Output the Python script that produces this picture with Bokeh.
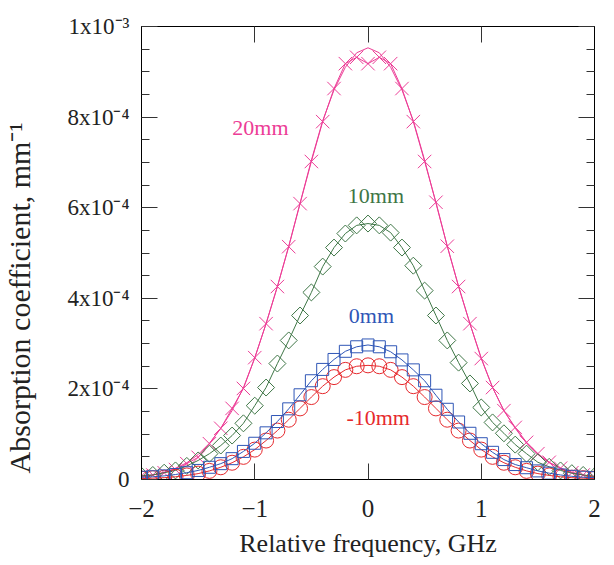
import math
from bokeh.plotting import figure
from bokeh.models import (ColumnDataSource, FixedTicker, LinearAxis, Range1d, Label,
                          CustomLabelingPolicy)
from bokeh.embed import file_html
from bokeh.resources import INLINE

# Relative frequency, GHz
freq = [-2.0, -1.9, -1.8, -1.7, -1.6, -1.5, -1.4, -1.3, -1.2, -1.1,
        -1.0, -0.9, -0.8, -0.7, -0.6, -0.5, -0.4, -0.3, -0.2, -0.1,
        0.0,
        0.1, 0.2, 0.3, 0.4, 0.5, 0.6, 0.7, 0.8, 0.9, 1.0,
        1.1, 1.2, 1.3, 1.4, 1.5, 1.6, 1.7, 1.8, 1.9, 2.0]

# Absorption coefficient in units of 1e-4 mm^-1
a20 = [0.08, 0.10, 0.15, 0.22, 0.35, 0.49, 0.79, 1.13, 1.57, 2.01,
       2.69, 3.44, 4.26, 5.14, 6.09, 7.02, 7.90, 8.63, 9.18, 9.32,
       9.18,
       9.32, 9.18, 8.63, 7.90, 7.02, 6.12, 5.15, 4.26, 3.44, 2.67,
       2.03, 1.52, 1.15, 0.82, 0.57, 0.38, 0.25, 0.15, 0.10, 0.05]
fit20 = [0.06, 0.10, 0.16, 0.25, 0.37, 0.55, 0.80, 1.13, 1.52, 2.03,
         2.68, 3.44, 4.26, 5.15, 6.10, 7.05, 7.92, 8.60, 9.10, 9.42,
         9.53,
         9.42, 9.10, 8.60, 7.92, 7.05, 6.10, 5.15, 4.26, 3.44, 2.68,
         2.03, 1.52, 1.13, 0.80, 0.55, 0.37, 0.25, 0.16, 0.10, 0.06]
a10 = [0.08, 0.10, 0.15, 0.20, 0.30, 0.42, 0.57, 0.75, 0.97, 1.24,
       1.63, 2.03, 2.56, 3.07, 3.62, 4.13, 4.70, 5.12, 5.43, 5.61,
       5.65,
       5.61, 5.45, 5.12, 4.72, 4.17, 3.62, 3.07, 2.58, 2.12, 1.59,
       1.26, 1.02, 0.77, 0.57, 0.38, 0.28, 0.20, 0.14, 0.10, 0.07]
a0 = [0.05, 0.06, 0.08, 0.11, 0.15, 0.20, 0.27, 0.35, 0.46, 0.62,
      0.80, 1.03, 1.28, 1.56, 1.87, 2.18, 2.43, 2.65, 2.83, 2.93,
      2.97,
      2.93, 2.82, 2.64, 2.42, 2.18, 1.86, 1.55, 1.27, 1.02, 0.79,
      0.60, 0.44, 0.33, 0.26, 0.19, 0.14, 0.10, 0.07, 0.05, 0.04]
am10 = [0.02, 0.03, 0.04, 0.06, 0.09, 0.13, 0.19, 0.27, 0.37, 0.50,
        0.66, 0.86, 1.08, 1.32, 1.57, 1.82, 2.06, 2.26, 2.42, 2.50,
        2.52,
        2.50, 2.42, 2.26, 2.06, 1.82, 1.57, 1.32, 1.08, 0.86, 0.66,
        0.50, 0.37, 0.27, 0.19, 0.13, 0.09, 0.06, 0.04, 0.03, 0.02]

series_names = ["20mm", "10mm", "0mm", "-10mm"]
name_x = [-0.95, 0.07, 0.03, 0.09]
name_y = [7.77, 6.28, 3.62, 1.37]

x_ticks = [-2, -1, 0, 1, 2]
y_ticks = [0, 2, 4, 6, 8, 10]
y_tick_labels = ["0", "2x10\u207b\u2074", "4x10\u207b\u2074", "6x10\u207b\u2074",
                 "8x10\u207b\u2074", "1x10\u207b\u00b3"]
y_title = "Absorption coefficient, mm\u207b\u00b9"
x_title = "Relative frequency, GHz"

PINK = "#EC3D96"
GREEN = "#3E7646"
BLUE = "#2F56B6"
RED = "#E6292D"
TXT = "#222222"
FONT = "Liberation Serif"

W, H = 604, 563
p = figure(width=W, height=H, output_backend="svg", toolbar_location=None,
           x_range=Range1d(-2, 2), y_range=Range1d(0, 10),
           min_border_left=140, min_border_right=W - 594,
           min_border_top=26, min_border_bottom=H - 479)
p.grid.visible = False
p.outline_line_color = "black"
p.outline_line_width = 1
p.background_fill_color = "white"

bottom = p.below[0]
left = p.left[0]

src = ColumnDataSource(dict(freq=freq, a20=a20, fit20=fit20, a10=a10, a0=a0, am10=am10))

p.line("freq", "fit20", source=src, line_color=PINK, line_width=1)
p.line("freq", "a20", source=src, line_color=PINK, line_width=1)
p.scatter("freq", "a20", source=src, marker="x", size=19, line_color=PINK, line_width=1)

p.line("freq", "a10", source=src, line_color=GREEN, line_width=1)
p.scatter("freq", "a10", source=src, marker="square", angle=math.pi / 4, size=12,
          line_color=GREEN, fill_color=None, line_width=1)

p.line("freq", "am10", source=src, line_color=RED, line_width=1)
p.scatter("freq", "am10", source=src, marker="circle", size=15,
          line_color=RED, fill_color=None, line_width=1)

p.line("freq", "a0", source=src, line_color=BLUE, line_width=1)
p.scatter("freq", "a0", source=src, marker="square", size=12,
          line_color=BLUE, fill_color=None, line_width=1)

minor_y = [t + k * 0.5 for t in y_ticks[:-1] for k in range(1, 4)]

bottom.ticker = FixedTicker(ticks=x_ticks, minor_ticks=[])
left.ticker = FixedTicker(ticks=y_ticks, minor_ticks=minor_y)
top = LinearAxis(ticker=FixedTicker(ticks=x_ticks, minor_ticks=[]))
right = LinearAxis(ticker=FixedTicker(ticks=y_ticks, minor_ticks=minor_y))
p.add_layout(top, "above")
p.add_layout(right, "right")

no_labels = CustomLabelingPolicy(code="return new Set()")
for ax in [bottom, left, top, right]:
    ax.major_tick_in = 16
    ax.major_tick_out = 0
    ax.minor_tick_in = 8
    ax.minor_tick_out = 0
    ax.axis_line_color = "black"
    ax.major_tick_line_color = "#333333"
    ax.minor_tick_line_color = "#333333"

for ax in [top, right]:
    ax.major_label_policy = no_labels
    ax.major_label_text_font_size = "0px"
    ax.major_label_standoff = 0

bottom.major_label_text_font = FONT
bottom.major_label_text_font_size = "25px"
bottom.major_label_text_color = TXT
bottom.major_label_standoff = 20
bottom.axis_label = x_title
bottom.axis_label_text_font = FONT
bottom.axis_label_text_font_size = "26px"
bottom.axis_label_text_font_style = "normal"
bottom.axis_label_text_color = TXT
bottom.axis_label_standoff = 9

left.major_label_overrides = {t: s for t, s in zip(y_ticks, y_tick_labels)}
left.major_label_text_font = FONT
left.major_label_text_font_size = "23px"
left.major_label_text_color = TXT
left.major_label_standoff = 12
left.axis_label = y_title + "\u00a0" * 12
left.axis_label_text_font = FONT
left.axis_label_text_font_size = "30px"
left.axis_label_text_font_style = "normal"
left.axis_label_text_color = TXT
left.axis_label_standoff = 28

# series names
for name, nx, ny, c in zip(series_names, name_x, name_y, [PINK, GREEN, BLUE, RED]):
    p.add_layout(Label(x=nx, y=ny, text=name, text_align="center", text_baseline="middle",
                       text_font=FONT, text_font_size="22px", text_color=c))

open("out.html", "w").write(file_html(p, INLINE))
